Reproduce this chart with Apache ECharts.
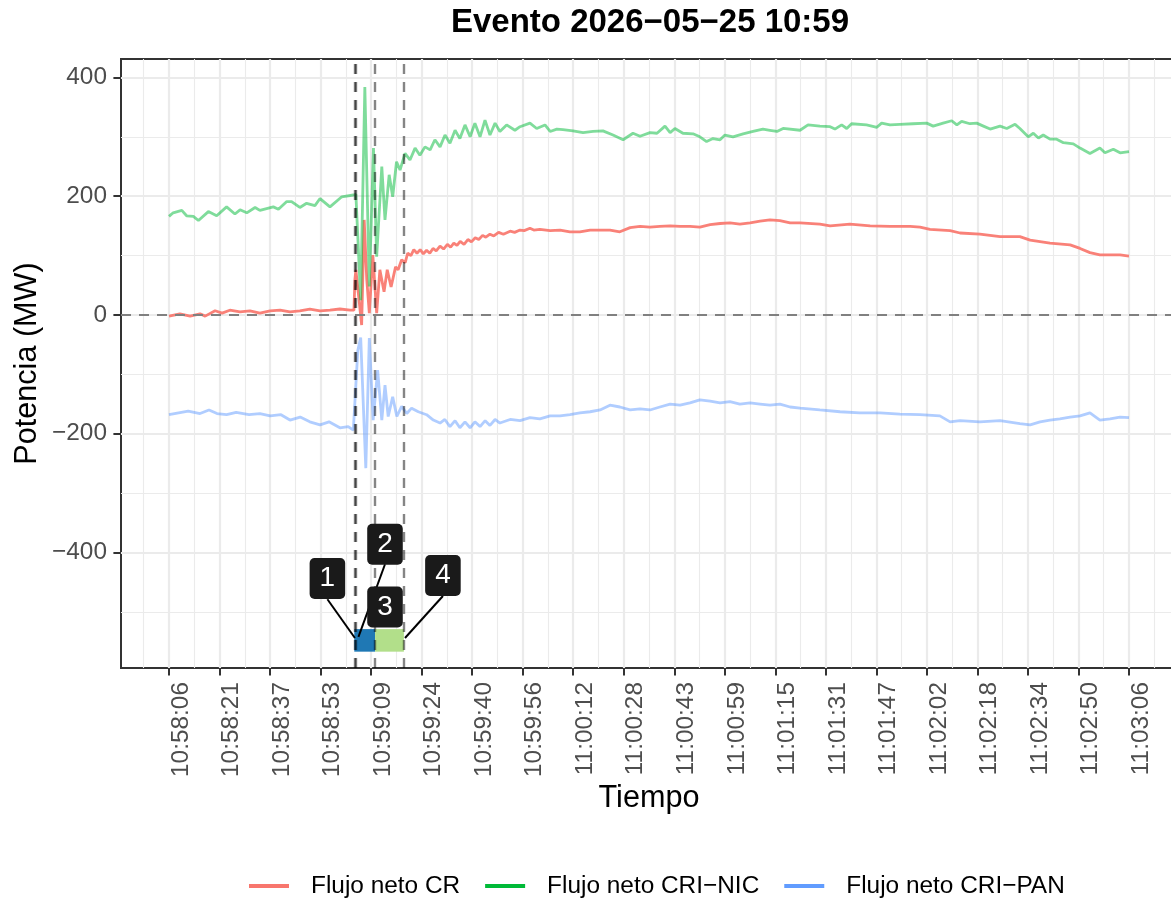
<!DOCTYPE html>
<html><head><meta charset="utf-8">
<script src="https://cdn.jsdelivr.net/npm/echarts@6/dist/echarts.min.js"></script>
<style>html,body{margin:0;padding:0;background:#fff}#c{width:1171px;height:903px}</style>
</head><body><div id="c"></div><script>
// ---------------- data ----------------
const xTickLabels = ['10:58:06','10:58:21','10:58:37','10:58:53','10:59:09','10:59:24','10:59:40','10:59:56','11:00:12','11:00:28','11:00:43','11:00:59','11:01:15','11:01:31','11:01:47','11:02:02','11:02:18','11:02:34','11:02:50','11:03:06'];
const yTickValues = [-400,-200,0,200,400];
const yTickLabels = ['\u2212400','\u2212200','0','200','400'];
const seriesNames = ['Flujo neto CR','Flujo neto CRI\u2212NIC','Flujo neto CRI\u2212PAN'];

// seconds after 10:58:06
const crT = [0,3.4,6.6,9.7,11.3,14.4,16.6,19,22.2,25.3,28.4,31.6,34.7,37.8,40.9,44,47.2,50.3,53.4,56.6,57.8,
  58.1,58.4,59.3,60.2,61,61.8,62.6,63.7,64.9,65.9,67.2,68.2,69.4,70.8,71.6,72.7,
  73.8,74.6,75.6,76.5,77.5,78.5,79.5,80.5,81.5,82.5,83.5,84.7,85.8,87,88,89,90,91,92.2,93.4,94.5,95.7,96.8,98,99,100.3,101.5,103,104.5,106.6,108,109.7,111,112.8,114,
  115.9,119.1,122.2,125.3,128.4,131.6,134.7,137.8,140.9,144.1,147.2,150.3,153.4,156.6,159.7,162.8,165.9,169.1,172.2,175.3,178.4,181.6,184.7,187.8,190.9,194.1,197.2,203.4,206.6,212.8,219.1,225.3,231.6,234.7,237.8,244.1,247.2,253.4,259.7,265.9,269.1,275.3,281.6,284.7,287.8,290.9,297.2,300];
const crV = [-2,2,-2,2,-2,7,3,8,5,7,3,7,8,5,7,10,7,8,10,8,8,
  60,76,30,-17,160,60,3,101,3,76,39,76,47,81,76,93,
  88,104,100,110,104,110,103,109,104,112,108,116,111,119,114,121,117,124,119,127,123,130,127,134,131,136,133,139,136,141,139,143,142,146,143,
  144,142,143,140,140,143,143,143,140,147,149,148,149,150,149,149,148,152,154,155,153,155,158,160,159,155,155,153,150,153,150,149,149,148,144,142,138,136,132,132,126,121,118,112,105,101,101,99];

const nicT = [0,1.3,4,5.5,7.6,9.2,12.3,14.9,18,20.6,22.2,24.3,26.9,28.4,32.6,34.2,36.8,38.3,40.9,43,45.6,47.2,50.3,54,57.6,58.1,
  58.4,59.9,61.2,62.6,63.9,64.9,66.5,67.5,68.8,69.9,71.1,72.2,
  73.75,75.3,76.9,78.4,80,81.6,83.1,84.7,86.25,87.8,89.4,90.9,92.5,94.1,95.6,97.2,98.75,100.3,101.9,103.4,105.5,108.1,109.7,112.8,114.9,117.5,119.1,121.2,123.1,126.25,129.4,132.5,135.6,138.75,141.9,145,147.2,150.3,152.5,155,156.6,158.1,160.6,163.75,165.9,168,170,172.2,173.75,176.25,179.4,182.5,185.6,187.8,190,191.9,197.2,
  199.7,203.4,206.6,208.1,210.2,211.8,213.3,218,221.2,222.7,225.3,228.4,232.5,236.8,238.8,241.9,244.6,246.2,247.7,250.3,252.4,254.5,256.6,259.7,261.8,264.4,265.9,268.5,270.1,271.7,273.2,275.3,277.4,279.5,282.6,284.7,287.8,290.9,292.5,295.1,297.2,300];
const nicV = [166,172,176,167,166,159,174,167,182,170,177,172,181,176,182,178,191,191,181,188,184,196,182,199,202,204,
  203,25,384,48,281,98,250,160,236,199,258,244,
  272,261,281,269,283,278,295,283,303,289,311,297,320,300,323,300,328,303,323,309,320,311,317,323,314,320,309,313,312,310,307,309,310,303,295,306,301,307,306,318,307,314,306,305,300,292,297,295,303,300,305,309,313,311,309,314,311,
  320,318,317,313,320,314,322,320,316,323,320,321,322,323,318,323,327,320,326,322,323,318,313,318,314,321,314,300,306,298,303,296,296,290,288,281,272,281,273,279,273,275];

const panT = [0,3,6,9.7,12.5,15,18,21,25,28.4,31.6,35,37.8,41,44,47.2,50,53.4,56,57.6,58.1,
  59.0,59.9,61.5,62.6,63.8,65.2,66.5,67.5,68.5,69.9,71.2,72.7,74.3,75.8,77.9,80.5,82.6,
  84.7,86.2,87.8,89.4,90.9,92.5,94.1,95.6,97.2,98.8,100.3,101.9,103.4,106.6,109.7,112.8,115.9,119.1,122.2,125.3,128.4,131.6,134.7,137.8,140.9,144.1,147.2,150.3,153.4,156.6,159.7,162.8,165.9,169.1,172.2,175.3,178.4,181.6,184.7,187.8,190.9,194.1,197.2,203.4,209.7,215.9,222.2,228.4,234.7,240.9,244.1,247.2,253.4,259.7,265.9,269.1,272.2,275.3,278.4,281.6,284.7,287.8,290.9,294.1,297.2,300];
const panV = [-168,-165,-162,-166,-160,-166,-168,-164,-168,-166,-170,-168,-177,-172,-180,-185,-180,-190,-188,-194,-194,
  -60,-38,-258,-39,-177,-93,-177,-118,-171,-138,-171,-154,-166,-157,-163,-168,-177,
  -182,-176,-188,-178,-190,-180,-190,-180,-188,-178,-186,-176,-182,-176,-178,-173,-175,-170,-170,-168,-165,-163,-160,-152,-155,-160,-158,-160,-155,-150,-152,-148,-143,-145,-148,-146,-150,-148,-150,-152,-150,-155,-157,-160,-163,-165,-165,-167,-168,-170,-180,-178,-180,-178,-183,-185,-180,-177,-175,-172,-170,-165,-177,-175,-172,-173];

// events (seconds) and phase bars
const eventT = [57.9, 58.4, 64.4, 73.4];
const phaseStart = [57.9, 64.4];
const phaseEnd = [64.4, 73.4];
const phaseLow = -567, phaseHigh = -529;
// numbered labels: centre, leader start (bottom edge) and leader end
const annText = ['1','2','3','4'];
const annT = [49.5, 67.5, 67.5, 85.6];
const annV = [-443.7, -386, -491.7, -438.7];
const annLeadFromV = [-478.7, -419.8, null, -473.2];
const annLeadToT = [58.1, 59.2, null, 73.75];
const annLeadToV = [-544, -542, null, -544];

// ---------------- layout ----------------
const panelL = 121, panelT = 59, panelW = 1056, panelH = 609;
const xMin = -15, xMax = 315, yMin = -594.5, yMax = 431;
const sx = panelW / (xMax - xMin), sy = panelH / (yMax - yMin);
const xpix = t => panelL + (t - xMin) * sx;
const ypix = v => panelT + (yMax - v) * sy;
const I = 300 / 19;
const FONT = 'Liberation Sans, Arial, Helvetica, sans-serif';
const tickColor = '#4D4D4D', gridColor = '#EBEBEB', darkLine = '#333333';

const zip = (a, b) => a.slice(0, Math.min(a.length, b.length)).map((t, i) => [t, b[i]]);

const hidden = {show: false};
const chart = echarts.init(document.getElementById('c'), null, {renderer: 'canvas'});
const option = {
  animation: false,
  backgroundColor: '#ffffff',
  textStyle: {fontFamily: FONT},
  title: {
    text: 'Evento 2026\u221205\u221225 10:59',
    left: 650, top: 6, padding: 0, textAlign: 'center',
    textStyle: {fontSize: 33, fontWeight: 'bold', color: '#000', fontFamily: FONT}
  },
  legend: {
    left: 249, top: 874, padding: 0, itemGap: 25,
    icon: 'rect', itemWidth: 40, itemHeight: 4,
    textStyle: {fontSize: 24.4, color: '#000', fontFamily: FONT, padding: [0, 0, 0, 17]},
    data: seriesNames
  },
  grid: [
    {left: panelL, top: panelT, width: panelW, height: panelH, show: true, borderColor: darkLine, borderWidth: 2, backgroundColor: 'transparent', outerBoundsMode: 'none', containLabel: false},
    {left: xpix(0), top: panelT, width: 20 * I * sx, height: panelH, outerBoundsMode: 'none', containLabel: false},
    {left: xpix(-I), top: panelT, width: 21 * I * sx, height: panelH, outerBoundsMode: 'none', containLabel: false},
    {left: panelL, top: ypix(400), width: panelW, height: 800 * sy, outerBoundsMode: 'none', containLabel: false},
    {left: panelL, top: ypix(400), width: panelW, height: 1000 * sy, outerBoundsMode: 'none', containLabel: false}
  ],
  xAxis: [
    {gridIndex: 0, type: 'value', min: xMin, max: xMax, axisLine: hidden, axisTick: hidden, axisLabel: hidden, splitLine: hidden,
     name: 'Tiempo', nameLocation: 'middle', nameGap: 115, nameTextStyle: {fontSize: 30.6, color: '#000', fontFamily: FONT}},
    {gridIndex: 1, type: 'value', min: 0, max: 20 * I, interval: I, axisLine: hidden, splitLine: hidden,
     axisTick: {show: true, length: 7.6, lineStyle: {color: darkLine, width: 2}},
     axisLabel: {show: true, rotate: 90, verticalAlign: 'top', margin: 14, color: tickColor, fontSize: 24.4, fontFamily: FONT,
       showMaxLabel: false, formatter: v => xTickLabels[Math.round(v / I)] || ''}},
    {gridIndex: 2, type: 'value', min: -I, max: 20 * I, interval: I, axisLine: hidden, axisTick: hidden, axisLabel: hidden,
     splitLine: {show: true, showMinLine: false, showMaxLine: false, lineStyle: {color: gridColor, width: 2.2}},
     minorTick: {show: false, splitNumber: 2},
     minorSplitLine: {show: true, lineStyle: {color: gridColor, width: 1.1}}},
    {gridIndex: 3, type: 'value', show: false, min: 0, max: 1},
    {gridIndex: 4, type: 'value', show: false, min: 0, max: 1}
  ],
  yAxis: [
    {gridIndex: 0, type: 'value', min: yMin, max: yMax, axisLine: hidden, axisTick: hidden, axisLabel: hidden, splitLine: hidden,
     name: 'Potencia (MW)', nameLocation: 'middle', nameGap: 78, nameRotate: 90, nameTextStyle: {fontSize: 30.6, color: '#000', fontFamily: FONT}},
    {gridIndex: 1, type: 'value', show: false, min: 0, max: 1},
    {gridIndex: 2, type: 'value', show: false, min: 0, max: 1},
    {gridIndex: 3, type: 'value', min: -400, max: 400, interval: 200, axisLine: hidden, splitLine: hidden,
     axisTick: {show: true, length: 7.6, lineStyle: {color: darkLine, width: 2}},
     axisLabel: {show: true, margin: 14, color: tickColor, fontSize: 24.4, fontFamily: FONT,
       formatter: v => { const k = yTickValues.indexOf(Math.round(v)); return k >= 0 ? yTickLabels[k] : ''; }}},
    {gridIndex: 4, type: 'value', min: -600, max: 400, interval: 200, axisLine: hidden, axisTick: hidden, axisLabel: hidden,
     splitLine: {show: true, showMinLine: false, showMaxLine: true, lineStyle: {color: gridColor, width: 2.2}},
     minorTick: {show: false, splitNumber: 2},
     minorSplitLine: {show: true, lineStyle: {color: gridColor, width: 1.1}}}
  ],
  series: [
    {name: seriesNames[0], type: 'line', xAxisIndex: 0, yAxisIndex: 0, data: zip(crT, crV), showSymbol: false, symbol: 'none', z: 3,
     color: '#F8766D', lineStyle: {color: 'rgba(248,118,109,0.92)', width: 2.8},
     markLine: {silent: true, symbol: ['none', 'none'], label: {show: false}, z: 6,
       lineStyle: {type: [10, 8], color: '#808080', width: 2, opacity: 1}, data: [{yAxis: 0}]},
     markArea: {silent: true, z: 1, data: phaseStart.map((s, i) => [
       {xAxis: s, yAxis: phaseHigh, itemStyle: {color: ['#1F78B4', '#B2DF8A'][i], opacity: 1}},
       {xAxis: phaseEnd[i], yAxis: phaseLow}])}},
    {name: seriesNames[1], type: 'line', xAxisIndex: 0, yAxisIndex: 0, data: zip(nicT, nicV), showSymbol: false, symbol: 'none', z: 3,
     color: '#00BA38', lineStyle: {color: 'rgba(0,186,56,0.5)', width: 2.8}},
    {name: seriesNames[2], type: 'line', xAxisIndex: 0, yAxisIndex: 0, data: zip(panT, panV), showSymbol: false, symbol: 'none', z: 3,
     color: '#619CFF', lineStyle: {color: 'rgba(97,156,255,0.5)', width: 2.8},
     markLine: {silent: true, symbol: ['none', 'none'], label: {show: false}, z: 6,
       lineStyle: {type: [10, 8], color: 'rgba(0,0,0,0.48)', width: 2.4, opacity: 1}, data: eventT.map(t => ({xAxis: t}))}},
    {type: 'lines', coordinateSystem: 'cartesian2d', xAxisIndex: 0, yAxisIndex: 0, z: 7, silent: true,
     lineStyle: {color: '#000', width: 2, opacity: 1},
     data: annText.map((s, i) => annLeadToT[i] == null ? null : {coords: [[annT[i], annLeadFromV[i]], [annLeadToT[i], annLeadToV[i]]]}).filter(Boolean)},
    {type: 'scatter', xAxisIndex: 0, yAxisIndex: 0, z: 8, silent: true, symbolSize: 0,
     itemStyle: {opacity: 1},
     data: annText.map((s, i) => ({value: [annT[i], annV[i]], name: s})),
     label: {show: true, position: 'inside', formatter: p => p.name, color: '#fff', fontSize: 28, fontFamily: FONT, opacity: 1,
       backgroundColor: '#1A1A1A', borderRadius: 5, padding: [8, 10, 8, 10], lineHeight: 25}}
  ]
};
chart.setOption(option);
</script></body></html>
